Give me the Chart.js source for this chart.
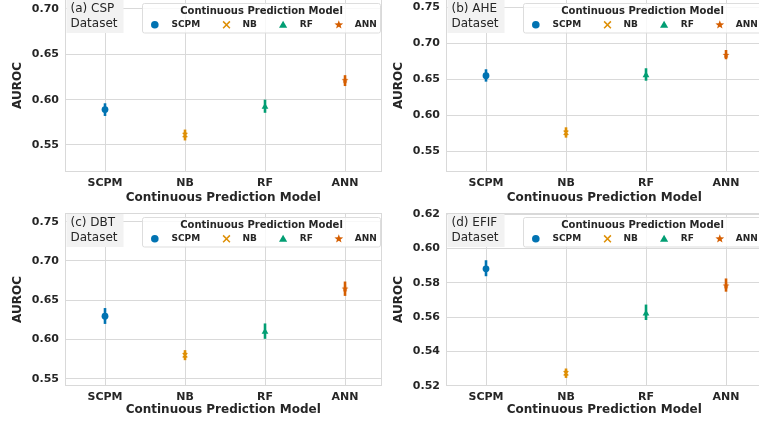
<!DOCTYPE html>
<html><head><meta charset="utf-8">
<script src="https://cdn.jsdelivr.net/npm/chart.js@4/dist/chart.umd.min.js"></script>
<style>
html,body{margin:0;padding:0;background:#fff;}
body{width:759px;height:421px;overflow:hidden;position:relative;}
canvas{position:absolute;}
</style></head><body>
<canvas id="cA" width="390" height="211" style="left:0px;top:-1px"></canvas>
<canvas id="cB" width="390" height="211" style="left:381px;top:-1px"></canvas>
<canvas id="cC" width="390" height="221" style="left:0px;top:203px"></canvas>
<canvas id="cD" width="390" height="221" style="left:381px;top:203px"></canvas>
<script>
// ---- data ----
const categories = ['SCPM', 'NB', 'RF', 'ANN'];
const legendTitle = 'Continuous Prediction Model';
const xAxisTitle = 'Continuous Prediction Model';
const yAxisTitle = 'AUROC';

const cspLabel = ['(a) CSP', 'Dataset'];
const cspMean = [0.589, 0.561, 0.592, 0.6215];
const cspLow  = [0.582, 0.555, 0.5855, 0.615];
const cspHigh = [0.596, 0.567, 0.600, 0.627];
const cspTicks = [0.55, 0.60, 0.65, 0.70];

const aheLabel = ['(b) AHE', 'Dataset'];
const aheMean = [0.655, 0.5758, 0.6556, 0.6838];
const aheLow  = [0.6467, 0.5689, 0.648, 0.6778];
const aheHigh = [0.6639, 0.5833, 0.6653, 0.6907];
const aheTicks = [0.55, 0.60, 0.65, 0.70, 0.75];

const dbtLabel = ['(c) DBT', 'Dataset'];
const dbtMean = [0.6296, 0.580, 0.6097, 0.6649];
const dbtLow  = [0.6198, 0.5736, 0.6008, 0.6555];
const dbtHigh = [0.640, 0.5864, 0.6204, 0.6738];
const dbtTicks = [0.55, 0.60, 0.65, 0.70, 0.75];

const efifLabel = ['(d) EFIF', 'Dataset'];
const efifMean = [0.5881, 0.5273, 0.562, 0.5784];
const efifLow  = [0.5838, 0.5246, 0.5583, 0.5748];
const efifHigh = [0.5931, 0.5301, 0.5673, 0.5825];
const efifTicks = [0.52, 0.54, 0.56, 0.58, 0.60, 0.62];

// ---- styles ----
const colors = ['#0173b2', '#de8f05', '#029e73', '#d55e00'];
const txt = '#262626';
const gridCol = '#d9d9d9';
Chart.defaults.font.family = "'DejaVu Sans', sans-serif";
Chart.defaults.color = txt;

function starPath(g, cx, cy, R) {
  const r = R * 0.42;
  g.beginPath();
  for (let k = 0; k < 10; k++) {
    const a = -Math.PI / 2 + k * Math.PI / 5;
    const rr = k % 2 ? r : R;
    g.lineTo(cx + rr * Math.cos(a), cy + rr * Math.sin(a));
  }
  g.closePath();
}
function starImage(color, R) {
  const s = Math.ceil(R * 2 + 2);
  const c = document.createElement('canvas');
  c.width = s; c.height = s;
  const g = c.getContext('2d');
  starPath(g, s / 2, s / 2, R);
  g.fillStyle = color; g.fill();
  return c;
}
function drawMarker(g, kind, x, y, color) {
  g.save();
  g.fillStyle = color; g.strokeStyle = color;
  if (kind === 0) { g.beginPath(); g.arc(x, y, 3.8, 0, Math.PI * 2); g.fill(); }
  else if (kind === 1) {
    const h = 3.4; g.lineWidth = 1.5; g.beginPath();
    g.moveTo(x - h, y - h); g.lineTo(x + h, y + h);
    g.moveTo(x + h, y - h); g.lineTo(x - h, y + h); g.stroke();
  } else if (kind === 2) {
    const R = 4.7; g.beginPath();
    for (let k = 0; k < 3; k++) { const a = -Math.PI / 2 + k * 2 * Math.PI / 3; g.lineTo(x + R * Math.cos(a), y + 0.6 + R * Math.sin(a)); }
    g.closePath(); g.fill();
  } else { starPath(g, x, y, 4.6); g.fill(); }
  g.restore();
}

const decorPlugin = {
  id: 'decor',
  beforeDatasetsDraw(chart, args, opts) {
    const g = chart.ctx, a = chart.chartArea;
    const xs = chart.scales.x, ys = chart.scales.y;
    g.save();
    g.strokeStyle = gridCol; g.lineWidth = 1;
    const l = Math.round(a.left) + 0.5, r = Math.round(a.right) - 0.5, t = Math.round(a.top) + 0.5, b = Math.round(a.bottom) - 0.5;
    g.strokeRect(l, t, r - l, b - t);
    g.lineWidth = 2.6; g.lineCap = 'butt';
    chart.data.datasets.forEach((ds, i) => {
      const px = xs.getPixelForValue(ds.data[0].x);
      g.strokeStyle = colors[i];
      g.beginPath();
      g.moveTo(px, ys.getPixelForValue(opts.low[i]));
      g.lineTo(px, ys.getPixelForValue(opts.high[i]));
      g.stroke();
    });
    g.restore();
  },
  afterDraw(chart, args, opts) {
    const g = chart.ctx, a = chart.chartArea;
    g.save();
    const bx = a.left + 1.5, by = a.top + 1, bw = 57, bh = 33;
    g.fillStyle = '#f2f2f2';
    g.fillRect(bx, by, bw, bh);
    g.fillStyle = txt; g.font = "12px 'DejaVu Sans'"; g.textBaseline = 'middle'; g.textAlign = 'left';
    g.fillText(opts.label[0], bx + 4, a.top + 10);
    g.fillText(opts.label[1], bx + 4, a.top + 25);
    const lx = a.left + 77.5, lr = a.right - 1, ly = a.top + 4.5, lb = a.top + 34;
    g.beginPath();
    if (g.roundRect) g.roundRect(lx, ly, lr - lx, lb - ly, 2); else g.rect(lx, ly, lr - lx, lb - ly);
    g.fillStyle = 'rgba(255,255,255,0.8)'; g.fill();
    g.strokeStyle = '#dddddd'; g.lineWidth = 1; g.stroke();
    g.fillStyle = txt; g.font = "bold 10px 'DejaVu Sans'"; g.textAlign = 'center';
    g.fillText(legendTitle, (lx + lr) / 2, a.top + 12.3);
    const mOff = [12.3, 84, 140.6, 196.3], tOff = [29, 100, 157.3, 212.3];
    g.font = "bold 9px 'DejaVu Sans'"; g.textAlign = 'left';
    categories.forEach((c, i) => {
      drawMarker(g, i, lx + mOff[i], a.top + 25.8, colors[i]);
      g.fillStyle = txt;
      g.fillText(c, lx + tOff[i], a.top + 25.8);
    });
    g.restore();
  }
};

const plotStyles = ['circle', 'crossRot', 'triangle', starImage(colors[3], 3.6)];
const plotRadius = [3.4, 3.2, 3.9, 3.6];

function noPad(s) { s.paddingTop = 0; s.paddingBottom = 0; s.paddingLeft = 0; s.paddingRight = 0; }

function makePanel(id, label, means, low, high, tickVals, yMin, yMax, titlePad, topPad) {
  const datasets = categories.map((c, i) => ({
    label: c,
    data: [{ x: i, y: means[i] }],
    backgroundColor: colors[i],
    borderColor: colors[i],
    pointStyle: plotStyles[i],
    pointRadius: plotRadius[i],
    pointBorderWidth: i === 1 ? 1.4 : 0
  }));
  return new Chart(document.getElementById(id), {
    type: 'scatter',
    data: { datasets },
    plugins: [decorPlugin],
    options: {
      responsive: false, animation: false, events: [], devicePixelRatio: 1,
      layout: { autoPadding: false, padding: { left: 0, right: 8.5, top: topPad, bottom: 0 } },
      plugins: {
        legend: { display: false }, tooltip: { enabled: false },
        decor: { label, low, high }
      },
      scales: {
        x: {
          type: 'linear', min: -0.5, max: 3.456,
          afterBuildTicks: s => { s.ticks = categories.map((c, i) => ({ value: i })); },
          afterFit: s => { s.height = 38; noPad(s); },
          ticks: { callback: v => categories[v], padding: 5, autoSkip: false, maxRotation: 0, color: txt, font: { size: 11, weight: 'bold' } },
          grid: { color: gridCol, drawTicks: false, lineWidth: 1 },
          border: { display: false },
          title: { display: true, text: xAxisTitle, color: txt, font: { size: 12, weight: 'bold' }, padding: { top: 0, bottom: titlePad } }
        },
        y: {
          type: 'linear', min: yMin, max: yMax,
          afterBuildTicks: s => { s.ticks = tickVals.map(v => ({ value: v })); },
          afterFit: s => { s.width = 65; noPad(s); },
          ticks: { callback: v => v.toFixed(2), padding: 6, color: txt, font: { size: 11, weight: 'bold' } },
          grid: { color: gridCol, drawTicks: false, lineWidth: 1 },
          border: { display: false },
          title: { display: true, text: yAxisTitle, color: txt, font: { size: 12, weight: 'bold' }, padding: { top: 11, bottom: 0 } }
        }
      }
    }
  });
}

makePanel('cA', cspLabel, cspMean, cspLow, cspHigh, cspTicks, 0.5202, 0.7110, 4.8, 0);
makePanel('cB', aheLabel, aheMean, aheLow, aheHigh, aheTicks, 0.5212, 0.7615, 4.8, 0);
makePanel('cC', dbtLabel, dbtMean, dbtLow, dbtHigh, dbtTicks, 0.5407, 0.7611, 6.5, 10);
makePanel('cD', efifLabel, efifMean, efifLow, efifHigh, efifTicks, 0.5199, 0.6206, 6.5, 10);
</script>
</body></html>
